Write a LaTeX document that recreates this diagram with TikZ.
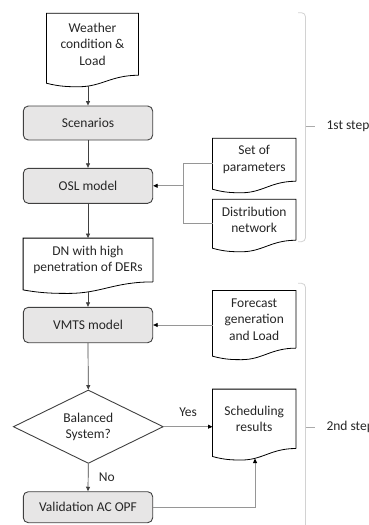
\documentclass[tikz,border=0pt]{standalone}
\usepackage{fontspec}
\setmainfont{Carlito}
\usetikzlibrary{arrows.meta, positioning, shapes.geometric, calc}
\definecolor{boxfill}{RGB}{231,230,230}
\definecolor{boxline}{RGB}{64,64,64}
\definecolor{linkgray}{RGB}{150,150,150}
\definecolor{bracegray}{RGB}{210,210,210}
\definecolor{tickgray}{RGB}{170,170,170}
\definecolor{txtgray}{RGB}{38,38,38}

\begin{document}
\begin{tikzpicture}[x=1pt, y=-1pt,
    every node/.style={font=\fontsize{13.5}{16.5}\selectfont, text=txtgray},
    process/.style={draw=boxline, fill=boxfill, rounded corners=5pt, line width=0.9pt,
      minimum width=129.4pt, minimum height=34pt, inner sep=0pt},
    docbox/.style={align=center, inner sep=0pt, minimum width=83pt},
    docline/.style={draw=black, line width=0.8pt},
    decision/.style={diamond, draw=boxline, line width=0.9pt, aspect=2.04, inner sep=0pt,
      minimum width=150pt, minimum height=73.4pt, align=center},
    flow/.style={draw=boxline, line width=0.7pt, -{Triangle[length=4.5pt,width=4pt]}},
    link/.style={draw=linkgray, line width=0.8pt},
    sideflow/.style={link, -{Triangle[length=4.5pt,width=4pt,color=black]}},
    brace/.style={draw=bracegray, line width=0.8pt, rounded corners=4pt}
  ]
    \useasboundingbox (0,0) rectangle (369,525);

    % main column
    \node[docbox, minimum width=91.6pt, minimum height=61.7pt] (wx) at (92.5,44.2) {Weather\\condition \&\\Load};
    \node[process] (scen) at (88,123) {Scenarios};
    \node[process, minimum height=35pt] (osl) at (88,185.8) {OSL model};
    \node[docbox, minimum width=129.4pt, minimum height=43.4pt] (dnd) at (88,260) {DN with high\\penetration of DERs};
    \node[process, minimum height=35.4pt] (vmts) at (88,325) {VMTS model};
    \node[decision] (bal) at (88.3,426.7) {Balanced\\System?};
    \node[process, minimum height=31pt] (val) at (88,507.2) {Validation AC OPF};

    % inputs and results
    \node[docbox, minimum height=42.7pt] (par) at (254.2,159.7) {Set of\\parameters};
    \node[docbox, minimum height=40.7pt] (dnet) at (254.2,219.7) {Distribution\\network};
    \node[docbox, minimum height=57.3pt] (fc) at (254.2,319.3) {Forecast\\generation\\and Load};
    \node[docbox, minimum height=59pt] (sched) at (254.2,418.8) {Scheduling\\results};

    % document outlines with wavy bottom
    \foreach \doc in {wx,dnd,par,dnet,fc,sched} {
      \draw[docline] let \p1=(\doc.south west), \p2=(\doc.north east), \n1={\x2-\x1} in
        (\x2,\y1) -- (\x2,\y2) -- (\x1,\y2) -- (\x1,{\y1-8pt})
        .. controls ({\x1+0.15*\n1},{\y1-11.5pt}) and ({\x1+0.25*\n1},{\y1-11.5pt}) .. ({\x1+0.35*\n1},{\y1-11.5pt})
        .. controls ({\x1+0.6*\n1},{\y1-11.5pt}) and ({\x1+0.7*\n1},\y1) .. (\x2,\y1);
    }

    % connectors
    \draw[flow] ($(scen.north |- wx.south)+(0pt,-10.5pt)$) -- (scen.north);
    \draw[flow] (scen.south) -- (osl.north);
    \coordinate (pj) at ($(osl.east)+(30pt,0pt)$);
    \draw[link] ([yshift=-4pt]par.west) -| (pj);
    \draw[link] ([yshift=-4pt]dnet.west) -| (pj);
    \draw[sideflow] (pj) -- (osl.east);
    \draw[flow] (osl.south) -- (dnd.north);
    \draw[flow] ($(dnd.south)+(0pt,-10pt)$) -- (vmts.north);
    \draw[sideflow] (vmts.east -| fc.west) -- (vmts.east);
    \draw[flow] (vmts.south) -- (bal.north);
    \draw[sideflow] (bal.east) -- (bal.east -| sched.west) node[midway, above=6pt] (yes) {Yes};
    \draw[flow] (bal.south) -- (val.north) node[midway, right=7pt] (no) {No};
    \coordinate (sb) at ($(sched.south west)!0.51!(sched.south east)+(0pt,-10pt)$);
    \draw[sideflow] (val.east) -| (sb);

    % step braces
    \draw[brace] (298,12.7) -| (305.5,126.7) |- (298,241.7);
    \draw[tickgray, line width=0.8pt] (305.5,126.7) -- (315,126.7);
    \node[anchor=west] (step1) at (323,126.7) {1st step};
    \draw[brace] (298,283.3) -| (305.5,427.3) -- (305.5,545);
    \draw[tickgray, line width=0.8pt] (305.5,427.3) -- (315,427.3);
    \node[anchor=west] (step2) at (323,427.3) {2nd step};
\end{tikzpicture}
\end{document}
